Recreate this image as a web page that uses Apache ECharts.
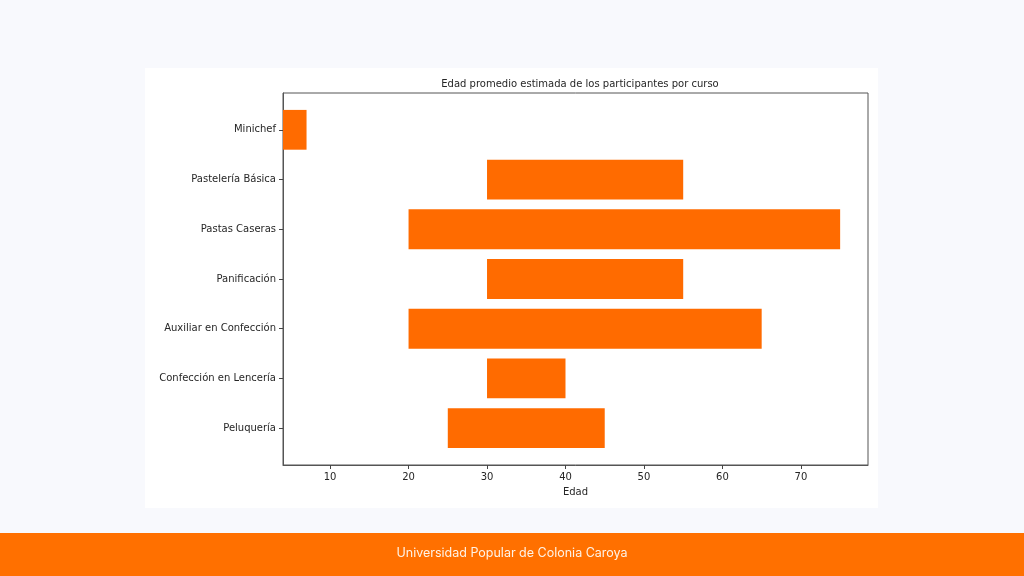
<!DOCTYPE html>
<html>
<head>
<meta charset="utf-8">
<script src="https://cdn.jsdelivr.net/npm/echarts@6/dist/echarts.min.js"></script>
<style>
  html, body { margin: 0; padding: 0; background: #f8f9fd; }
  #chart { width: 1024px; height: 576px; }
</style>
</head>
<body>
<div id="chart"></div>
<script>
// cursos, de arriba hacia abajo
const courses = [
    "Minichef",
    "Pastelería Básica",
    "Pastas Caseras",
    "Panificación",
    "Auxiliar en Confección",
    "Confección en Lencería",
    "Peluquería"
];
// rango de edad estimado (desde / hasta)
const ageFrom = [4, 30, 20, 30, 20, 30, 25];
const ageTo = [7, 55, 75, 55, 65, 40, 45];
const xTicks = [10, 20, 30, 40, 50, 60, 70];

const ORANGE = "#ff6b00";
const TEXT = "#262626";
const SPINE = "#555";

const data = courses.map((c, i) => [i, ageFrom[i], ageTo[i]]);
const yTicks = courses.map((c, i) => i);

const chart = echarts.init(document.getElementById("chart"));

chart.setOption({
    backgroundColor: "#f8f9fd",
    animation: false,
    graphic: [
        {
            type: "rect",
            z: -10,
            shape: { x: 145, y: 68, width: 733, height: 440 },
            style: { fill: "#ffffff" }
        },
        {
            type: "rect",
            z: -10,
            shape: { x: 0, y: 533, width: 1024, height: 43 },
            style: { fill: "#ff7000" }
        },
        {
            type: "text",
            x: 512,
            y: 553,
            style: {
                text: "Universidad Popular de Colonia Caroya",
                fill: "#fff3e6",
                font: "12.5px Inter",
                textAlign: "center",
                textVerticalAlign: "middle"
            }
        }
    ],
    title: {
        text: "Edad promedio estimada de los participantes por curso",
        left: 575,
        top: 74,
        textAlign: "center",
        textStyle: { fontFamily: "DejaVu Sans", fontSize: 10, fontWeight: "normal", color: TEXT }
    },
    grid: {
        left: 283,
        top: 93,
        width: 585,
        height: 372,
        show: true,
        borderColor: SPINE,
        borderWidth: 1,
        backgroundColor: "#fff"
    },
    xAxis: {
        type: "value",
        min: 4,
        max: 78.55,
        name: "Edad",
        nameLocation: "middle",
        nameGap: 22,
        nameTextStyle: { fontFamily: "DejaVu Sans", fontSize: 10, color: TEXT },
        splitLine: { show: false },
        axisLine: { show: true, onZero: false, lineStyle: { color: SPINE } },
        axisTick: { show: true, length: 4, customValues: xTicks, lineStyle: { color: "#444" } },
        axisLabel: {
            customValues: xTicks,
            margin: 7,
            fontFamily: "DejaVu Sans",
            fontSize: 10,
            color: TEXT
        }
    },
    yAxis: {
        type: "value",
        inverse: true,
        min: -0.74,
        max: 6.74,
        splitLine: { show: false },
        axisLine: { show: true, onZero: false, lineStyle: { color: SPINE } },
        axisTick: { show: true, length: 4, customValues: yTicks, lineStyle: { color: "#444" } },
        axisLabel: {
            customValues: yTicks,
            formatter: v => courses[Math.round(v)],
            margin: 7,
            padding: [5, 0, 0, 0],
            fontFamily: "DejaVu Sans",
            fontSize: 10,
            color: TEXT
        }
    },
    series: [
        {
            type: "custom",
            data,
            encode: { x: [1, 2], y: 0 },
            renderItem: (params, api) => {
                const idx = api.value(0);
                const p0 = api.coord([api.value(1), idx - 0.4]);
                const p1 = api.coord([api.value(2), idx + 0.4]);
                return {
                    type: "rect",
                    shape: { x: p0[0], y: p0[1], width: p1[0] - p0[0], height: p1[1] - p0[1] },
                    style: { fill: ORANGE }
                };
            }
        }
    ]
});
</script>
</body>
</html>
